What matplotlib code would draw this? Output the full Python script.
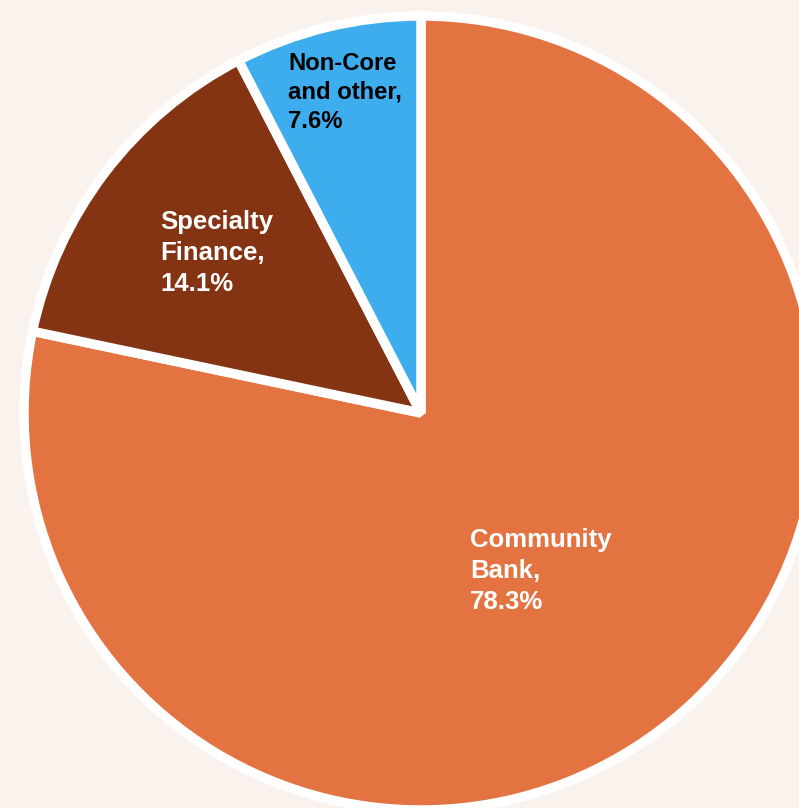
import matplotlib.pyplot as plt

# segment shares, clockwise from 12 o'clock
segments = ['Community Bank', 'Specialty Finance', 'Non-Core and other']
shares = [78.3, 14.1, 7.6]
label_lines = [['Community', 'Bank,'], ['Specialty', 'Finance,'], ['Non-Core', 'and other,']]

colors = ['#E37442', '#843313', '#3DADEE']
text_colors = ['white', 'white', 'black']
# top-left corner of each label, in pixels from the image's top-left
label_pos = [(470, 528), (160, 210), (288, 52)]
font_sizes = [18.5, 18.5, 17.2]
spacings = [1.37, 1.37, 1.33]

W, H = 799, 808
fig = plt.figure(figsize=(W / 100, H / 100), dpi=100)
fig.patch.set_facecolor('#FAF2EC')
ax = fig.add_axes([0, 0, 1, 1])
ax.set_facecolor('#FAF2EC')

cx, cy = 421, H - 413
ax.pie(shares, colors=colors, startangle=90, counterclock=False,
       center=(cx, cy), radius=397,
       wedgeprops=dict(edgecolor='white', linewidth=6.8, joinstyle='bevel'))

for lines, share, (x, y), col, fs, ls in zip(label_lines, shares, label_pos,
                                             text_colors, font_sizes, spacings):
    txt = '\n'.join(lines + [f'{share:.1f}%'])
    ax.text(x, H - y, txt, ha='left', va='top', color=col, fontsize=fs,
            fontweight='bold', family='Liberation Sans', linespacing=ls)

ax.set_xlim(0, W)
ax.set_ylim(0, H)
ax.set_aspect('equal')
ax.axis('off')

fig.savefig('out.png', dpi=100, facecolor=fig.get_facecolor())
